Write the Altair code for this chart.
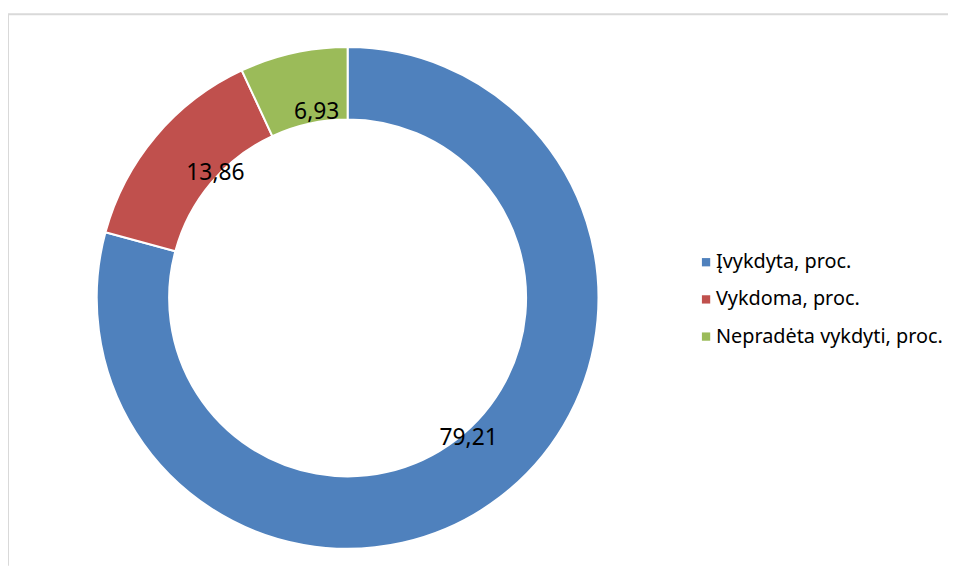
import altair as alt
import pandas as pd

categories = ["Įvykdyta, proc.", "Vykdoma, proc.", "Nepradėta vykdyti, proc."]
values = [79.21, 13.86, 6.93]
labels = ["79,21", "13,86", "6,93"]
colors = ["#4F81BD", "#C0504D", "#9BBB59"]

df = pd.DataFrame({"cat": categories, "val": values, "lab": labels, "ord": [0, 1, 2]})
frame = pd.DataFrame({"k": [0]})

cx, cy = 342.5, 286

base = alt.Chart(df).encode(
    theta=alt.Theta("val:Q", stack=True),
    order=alt.Order("ord:Q"),
)

arcs = base.mark_arc(outerRadius=253, innerRadius=180, stroke="white", strokeWidth=2).encode(
    x=alt.value(cx), y=alt.value(cy),
    color=alt.Color(
        "cat:N",
        sort=categories,
        scale=alt.Scale(domain=categories, range=colors),
        legend=alt.Legend(
            title=None, orient="none", legendX=694, legendY=240,
            symbolType="square", symbolSize=70, symbolStrokeWidth=0,
            labelFontSize=20, labelFont="Noto Sans", labelColor="#000000",
            labelOffset=0, rowPadding=17.5, labelLimit=400,
        ),
    ),
)

texts = base.mark_text(radius=186, dx=9, dy=-6, fontSize=23, font="Noto Sans", color="#000000").encode(
    x=alt.value(cx), y=alt.value(cy), text="lab:N"
)

top_line = alt.Chart(frame).mark_rule(color="#D9D9D9", strokeWidth=2).encode(
    x=alt.value(0), x2=alt.value(948), y=alt.value(0)
)
left_line = alt.Chart(frame).mark_rule(color="#D9D9D9", strokeWidth=2).encode(
    x=alt.value(0), y=alt.value(0), y2=alt.value(556)
)

chart = (top_line + left_line + arcs + texts).properties(
    width=948, height=556,
    autosize=alt.AutoSizeParams(type="none"),
    padding={"left": 0, "top": 4, "right": 0, "bottom": 0},
).configure_view(strokeWidth=0)

chart.save("out.html", embed_options={"renderer": "svg", "actions": False})
